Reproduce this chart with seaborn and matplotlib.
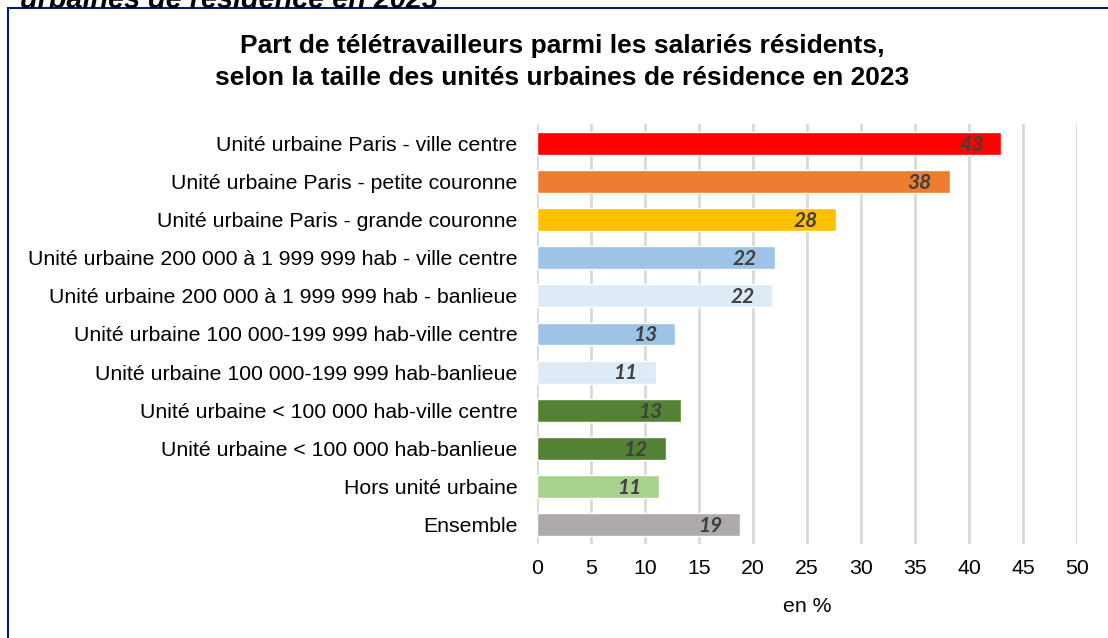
import matplotlib
matplotlib.use("Agg")
import matplotlib.pyplot as plt
from matplotlib.patches import Rectangle
import pandas as pd
import seaborn as sns

# données
categories = [
    "Unité urbaine Paris - ville centre",
    "Unité urbaine Paris - petite couronne",
    "Unité urbaine Paris - grande couronne",
    "Unité urbaine 200 000 à 1 999 999 hab - ville centre",
    "Unité urbaine 200 000 à 1 999 999 hab - banlieue",
    "Unité urbaine 100 000-199 999 hab-ville centre",
    "Unité urbaine 100 000-199 999 hab-banlieue",
    "Unité urbaine < 100 000 hab-ville centre",
    "Unité urbaine < 100 000 hab-banlieue",
    "Hors unité urbaine",
    "Ensemble",
]
values = [43.0, 38.2, 27.7, 22.0, 21.8, 12.8, 11.0, 13.3, 11.9, 11.3, 18.8]
labels = ["43", "38", "28", "22", "22", "13", "11", "13", "12", "11", "19"]
colors = ["#FF0000", "#ED7D31", "#FFC000", "#9DC3E6", "#DEEBF7", "#9DC3E6",
          "#DEEBF7", "#548235", "#548235", "#A9D18E", "#AEAAAA"]

df = pd.DataFrame({"cat": categories, "val": values})

sns.set_style("white")
plt.rcParams["font.family"] = ["Liberation Sans", "DejaVu Sans"]
plt.rcParams["text.color"] = "black"
plt.rcParams["axes.labelcolor"] = "black"

fig = plt.figure(figsize=(11.08, 6.38), dpi=100)
ax = fig.add_axes([0.4847, 0.1481, 0.4873, 0.6568])

sns.barplot(data=df, x="val", y="cat", hue="cat", palette=colors, legend=False,
            width=0.6, saturation=1, ax=ax, zorder=3)

ax.set_xlim(0, 50)
ax.set_ylim(10.5, -0.5)
ax.set_xticks(range(0, 51, 5))
ax.grid(axis="x", color="#D9D9D9", linewidth=2, zorder=0)
ax.grid(axis="y", visible=False)
for s in ax.spines.values():
    s.set_visible(False)
ax.tick_params(axis="both", length=0, labelsize=15.3, colors="black")
ax.tick_params(axis="y", pad=14)
ax.tick_params(axis="x", pad=11)
ax.set_ylabel("")
ax.set_xlabel("en %", fontsize=15.3, labelpad=14)

# étiquettes de valeur à l'intérieur des barres
for i, (v, lab) in enumerate(zip(values, labels)):
    ax.annotate(lab, (v, i), xytext=(-13, -1), textcoords="offset points",
                ha="right", va="center", fontsize=15, fontweight="bold",
                fontstyle="italic", color="#404040", family=["Lato", "DejaVu Sans"])

fig.text(0.507, 1 - 62 / 638,
         "Part de télétravailleurs parmi les salariés résidents,\n"
         "selon la taille des unités urbaines de résidence en 2023",
         ha="center", va="center", fontsize=19, fontweight="bold", linespacing=1.4)

# titre du document coupé en haut
fig.text(20 / 1108, 1 - 8 / 638, "urbaines de résidence en 2023",
         ha="left", va="baseline", fontsize=20.7, fontweight="bold", fontstyle="italic")

# cadre
fig.patches.append(Rectangle((8 / 1108, -0.1), 1.2, 1 - 8 / 638 + 0.1,
                             transform=fig.transFigure, fill=False,
                             edgecolor="#002060", linewidth=1.5))

fig.savefig("out.png", dpi=100)
